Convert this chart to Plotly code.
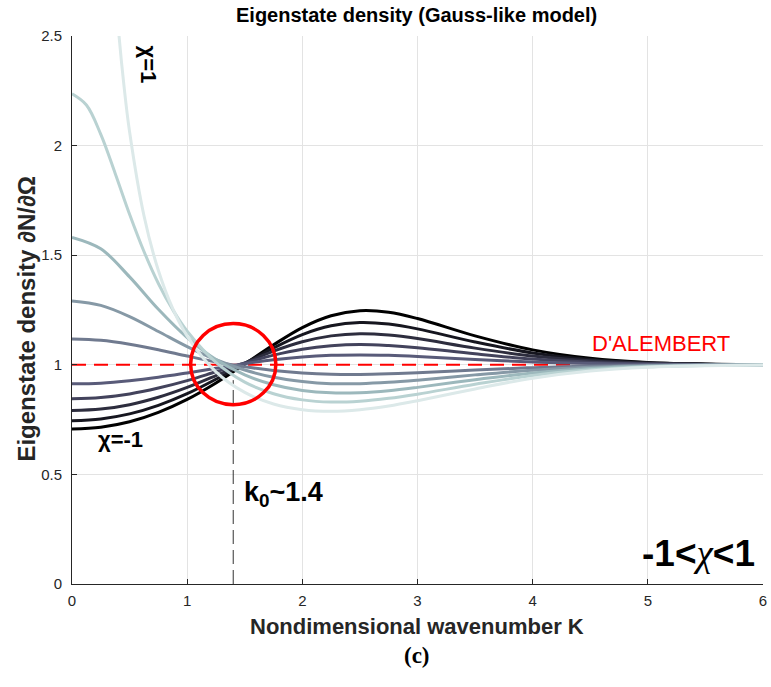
import plotly.graph_objects as go

# ---------------- data ----------------
K = [0, 0.25, 0.5, 0.75, 1, 1.25, 1.5, 1.75, 2, 2.25, 2.5, 2.75, 3, 3.5, 4, 4.5, 5, 5.5, 6]

dens_m10 = [0.707, 0.715, 0.740, 0.783, 0.842, 0.917, 1.003, 1.091, 1.170, 1.224, 1.247, 1.240, 1.211, 1.132, 1.068, 1.030, 1.011, 1.004, 1.001]
dens_m08 = [0.745, 0.753, 0.776, 0.815, 0.868, 0.934, 1.006, 1.077, 1.138, 1.178, 1.193, 1.186, 1.164, 1.104, 1.054, 1.024, 1.009, 1.003, 1.001]
dens_m06 = [0.791, 0.798, 0.818, 0.852, 0.897, 0.951, 1.008, 1.062, 1.105, 1.132, 1.142, 1.136, 1.120, 1.076, 1.040, 1.018, 1.007, 1.002, 1.001]
dens_m04 = [0.845, 0.851, 0.867, 0.894, 0.928, 0.968, 1.008, 1.044, 1.071, 1.087, 1.093, 1.088, 1.078, 1.050, 1.026, 1.012, 1.004, 1.001, 1.000]
dens_m02 = [0.913, 0.916, 0.927, 0.943, 0.963, 0.984, 1.005, 1.023, 1.036, 1.043, 1.045, 1.043, 1.038, 1.024, 1.013, 1.006, 1.002, 1.001, 1.000]
dens_p02 = [1.118, 1.112, 1.094, 1.069, 1.040, 1.013, 0.991, 0.974, 0.963, 0.957, 0.956, 0.959, 0.964, 0.976, 0.987, 0.994, 0.998, 0.999, 1.000]
dens_p04 = [1.291, 1.271, 1.220, 1.152, 1.083, 1.023, 0.976, 0.943, 0.924, 0.914, 0.914, 0.920, 0.930, 0.954, 0.975, 0.989, 0.996, 0.999, 1.000]
dens_p06 = [1.581, 1.529, 1.401, 1.253, 1.124, 1.024, 0.954, 0.909, 0.883, 0.872, 0.873, 0.882, 0.897, 0.932, 0.963, 0.983, 0.993, 0.998, 0.999]

K_p08 = [0, 0.125, 0.25, 0.375, 0.5, 0.625, 0.75, 0.875, 1, 1.25, 1.5, 1.75, 2, 2.25, 2.5, 2.75, 3, 3.5, 4, 4.5, 5, 5.5, 6]
dens_p08 = [2.236, 2.185, 2.051, 1.873, 1.687, 1.517, 1.371, 1.251, 1.153, 1.011, 0.921, 0.868, 0.840, 0.830, 0.834, 0.847, 0.866, 0.911, 0.951, 0.977, 0.991, 0.997, 0.999]

K_p10 = [0.3, 0.35, 0.4, 0.45, 0.5, 0.625, 0.75, 0.875, 1, 1.25, 1.5, 1.75, 2, 2.25, 2.5, 2.75, 3, 3.5, 4, 4.5, 5, 5.5, 6]
dens_p10 = [3.371, 2.901, 2.550, 2.279, 2.063, 1.680, 1.430, 1.256, 1.131, 0.968, 0.874, 0.821, 0.795, 0.788, 0.795, 0.812, 0.836, 0.890, 0.939, 0.972, 0.989, 0.996, 0.999]

chi_values = [-1, -0.8, -0.6, -0.4, -0.2, 0.2, 0.4, 0.6, 0.8, 1]
series_x = [K, K, K, K, K, K, K, K, K_p08, K_p10]
series_y = [dens_m10, dens_m08, dens_m06, dens_m04, dens_m02,
            dens_p02, dens_p04, dens_p06, dens_p08, dens_p10]
colors = ["rgb(0,0,0)", "rgb(22,22,31)", "rgb(45,45,62)", "rgb(67,67,92)",
          "rgb(89,91,121)", "rgb(112,122,143)", "rgb(134,153,166)",
          "rgb(156,184,188)", "rgb(185,210,210)", "rgb(220,233,233)"]

dalembert_x = [0, 4.35]
dalembert_y = [1, 1]
k0 = 1.4

x_ticks = [0, 1, 2, 3, 4, 5, 6]
y_ticks = [0, 0.5, 1, 1.5, 2, 2.5]
y_ticklabels = ["0", "0.5", "1", "1.5", "2", "2.5"]

FONT = "Liberation Sans, Arial, Helvetica, sans-serif"
AX = "#262626"

fig = go.Figure()

# D'Alembert reference (red dashed)
fig.add_trace(go.Scatter(x=dalembert_x, y=dalembert_y, mode="lines",
                         line=dict(color="#ff0000", width=2, dash="14px,8px"),
                         hoverinfo="skip", showlegend=False))

# vertical dashed line at k0
fig.add_trace(go.Scatter(x=[k0, k0], y=[0, 0.93], mode="lines",
                         line=dict(color="#333333", width=1, dash="14px,6px"),
                         hoverinfo="skip", showlegend=False))

for chi, xs, ys, c in zip(chi_values, series_x, series_y, colors):
    fig.add_trace(go.Scatter(x=xs, y=ys, mode="lines", name=f"chi={chi}",
                             line=dict(color=c, width=3, shape="spline", smoothing=1.0),
                             showlegend=False))

# red circle around crossing point
fig.add_shape(type="circle", xref="x", yref="y", x0=1.03, x1=1.77, y0=0.818, y1=1.188,
              line=dict(color="#ff0000", width=3.5), layer="above")

ann = []
ann.append(dict(text="<b>Eigenstate density (Gauss-like model)</b>", xref="paper", yref="paper",
                x=0.499, y=1.038, xanchor="center", yanchor="middle", showarrow=False,
                font=dict(family=FONT, size=20, color="#000000")))
ann.append(dict(text="<b>Nondimensional wavenumber K</b>", xref="paper", yref="paper",
                x=0.499, y=-0.078, xanchor="center", yanchor="middle", showarrow=False,
                font=dict(family=FONT, size=22, color=AX)))
ann.append(dict(text="<b>Eigenstate density ∂N/∂Ω</b>", xref="paper", yref="paper",
                x=-0.066, y=0.485, xanchor="center", yanchor="middle", showarrow=False,
                textangle=-90, font=dict(family=FONT, size=24, color=AX)))
ann.append(dict(text="<b>(c)</b>", xref="paper", yref="paper",
                x=0.499, y=-0.13, xanchor="center", yanchor="middle", showarrow=False,
                font=dict(family="Liberation Serif, DejaVu Serif, serif", size=23, color="#000000")))
ann.append(dict(text="D'ALEMBERT", xref="x", yref="y", x=5.11, y=1.099,
                xanchor="center", yanchor="middle", showarrow=False,
                font=dict(family=FONT, size=22, color="#ff0000")))
ann.append(dict(text="<b>χ=1</b>", xref="x", yref="y", x=0.66, y=2.37,
                xanchor="center", yanchor="middle", showarrow=False, textangle=90,
                font=dict(family=FONT, size=22, color="#000000")))
ann.append(dict(text="<b>χ=-1</b>", xref="x", yref="y", x=0.21, y=0.657,
                xanchor="left", yanchor="middle", showarrow=False,
                font=dict(family=FONT, size=22, color="#000000")))
ann.append(dict(text="<b>k<sub>0</sub>~1.4</b>", xref="x", yref="y", x=1.48, y=0.41,
                xanchor="left", yanchor="middle", showarrow=False,
                font=dict(family=FONT, size=27, color="#000000")))
ann.append(dict(text="<b>-1&lt;</b><span style=\"font-family:'Liberation Serif',serif;font-style:italic\">χ</span><b>&lt;1</b>",
                xref="x", yref="y", x=5.95, y=0.14,
                xanchor="right", yanchor="middle", showarrow=False,
                font=dict(family=FONT, size=37, color="#000000")))

fig.update_layout(
    width=771, height=687,
    margin=dict(l=72, r=4, t=36, b=103),
    paper_bgcolor="white", plot_bgcolor="white",
    annotations=ann,
    showlegend=False,
    xaxis=dict(range=[0, 6], tickvals=x_ticks, ticktext=[str(v) for v in x_ticks],
               showgrid=True, gridcolor="#e3e3e3", gridwidth=1,
               zeroline=False, showline=True, linecolor=AX, linewidth=1,
               ticks="inside", ticklen=5, tickcolor=AX, mirror=False,
               ticklabelstandoff=3, ticklabeloverflow="allow",
               tickfont=dict(family=FONT, size=15, color=AX)),
    yaxis=dict(range=[0, 2.5], tickvals=y_ticks, ticktext=y_ticklabels,
               showgrid=True, gridcolor="#e3e3e3", gridwidth=1,
               zeroline=False, showline=True, linecolor=AX, linewidth=1,
               ticks="inside", ticklen=5, tickcolor=AX, mirror=False,
               ticklabelstandoff=6, ticklabeloverflow="allow",
               tickfont=dict(family=FONT, size=15, color=AX)),
)

fig.write_html("out.html")
